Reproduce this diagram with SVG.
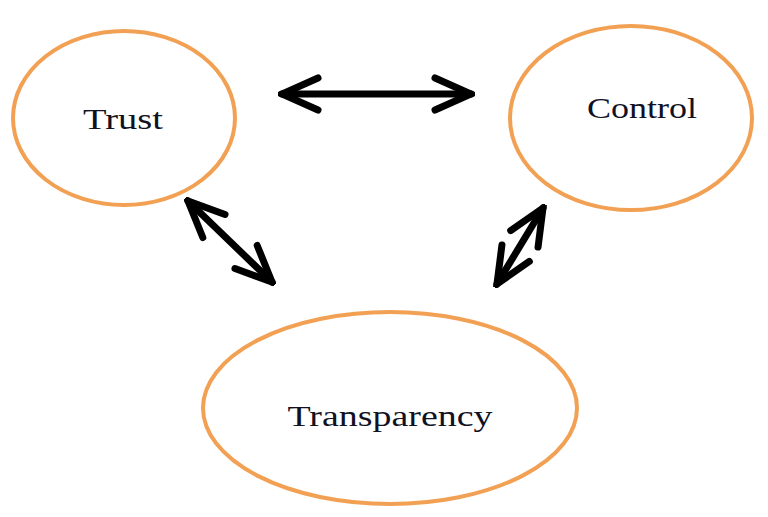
<svg xmlns="http://www.w3.org/2000/svg" width="768" height="517" viewBox="0 0 768 517">
<style>
.node{fill:#fff;stroke:#F2A154;stroke-width:4}
.lbl{font-family:"Liberation Serif","DejaVu Serif",serif;font-size:30px;fill:#111122;text-anchor:middle}
.conn{stroke:#000;stroke-width:7;fill:none;stroke-linecap:round;marker-start:url(#head);marker-end:url(#head)}
</style>
<defs>
<marker id="head" viewBox="-40 -20 44 40" refX="0" refY="0" markerWidth="44" markerHeight="40" markerUnits="userSpaceOnUse" orient="auto-start-reverse">
<path d="M-36,-16 L0,0 L-36,16" fill="none" stroke="#000" stroke-width="7" stroke-linecap="round" stroke-linejoin="miter"/>
</marker>
</defs>
<rect width="768" height="517" fill="#fff"/>
<g id="trust"><ellipse class="node" cx="124" cy="118" rx="111" ry="87"/><text class="lbl" x="123" y="129" textLength="80" lengthAdjust="spacingAndGlyphs">Trust</text></g>
<g id="control"><ellipse class="node" cx="631" cy="118" rx="121" ry="92"/><text class="lbl" x="642" y="118" textLength="110" lengthAdjust="spacingAndGlyphs">Control</text></g>
<g id="transparency"><ellipse class="node" cx="390" cy="408" rx="187" ry="96"/><text class="lbl" x="390" y="426" textLength="205" lengthAdjust="spacingAndGlyphs">Transparency</text></g>
<g id="connectors">
<line class="conn" x1="282" y1="94" x2="471" y2="94"/>
<line class="conn" x1="188" y1="201" x2="272" y2="282"/>
<line class="conn" x1="543" y1="208" x2="497" y2="284"/>
</g>
</svg>
